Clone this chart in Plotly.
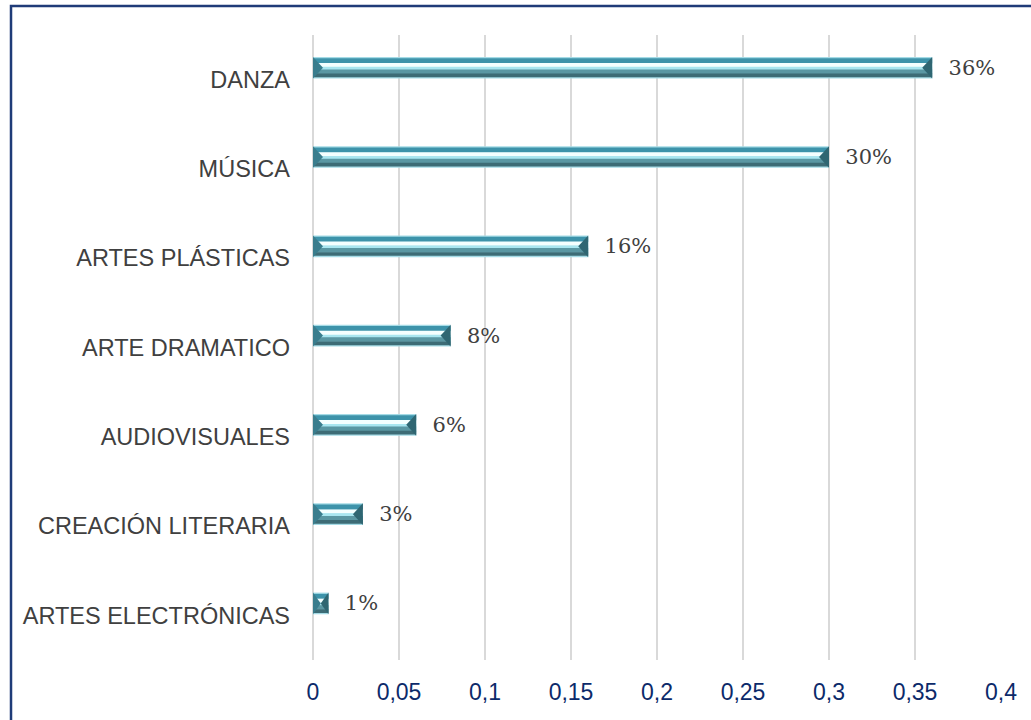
import plotly.graph_objects as go

categories = ["DANZA", "MÚSICA", "ARTES PLÁSTICAS", "ARTE DRAMATICO",
              "AUDIOVISUALES", "CREACIÓN LITERARIA", "ARTES ELECTRÓNICAS"]
values = [0.36, 0.30, 0.16, 0.08, 0.06, 0.029, 0.009]
x_ticks = [0, 0.05, 0.1, 0.15, 0.2, 0.25, 0.3, 0.35, 0.4]

pos = list(range(len(categories)))

BAR_OFF = -0.255
BAR_W = 0.243
FACET = 0.0058  # bevel end-facet depth (x units)

# bevel layers: (from, to) fraction of bar thickness from top, colour
layers = [
    (0.00, 1.00, "#a5dbe6"),
    (0.06, 0.30, "#3d93aa"),
    (0.28, 0.47, "#f4ffff"),
    (0.46, 0.59, "#a9e6f0"),
    (0.58, 0.79, "#5a97a3"),
    (0.77, 0.94, "#3d6c76"),
]

fig = go.Figure()
for f0, f1, col in layers:
    fig.add_trace(go.Bar(
        x=values, y=pos, orientation="h",
        offset=BAR_OFF + f0 * BAR_W, width=(f1 - f0) * BAR_W,
        marker=dict(color=col, line=dict(width=0)),
        hoverinfo="skip", showlegend=False,
    ))

# bevel end facets (darker triangles at both ends of each bar)
for p, v in zip(pos, values):
    top = p + BAR_OFF
    bot = p + BAR_OFF + BAR_W
    mid = (top + bot) / 2
    d = min(FACET, v / 2)
    fig.add_trace(go.Scatter(
        x=[v, v - d, v, v], y=[top, mid, bot, top], mode="lines",
        fill="toself", fillcolor="#2f6672", line=dict(width=0),
        hoverinfo="skip", showlegend=False))
    fig.add_trace(go.Scatter(
        x=[0, d, 0, 0], y=[top, mid, bot, top], mode="lines",
        fill="toself", fillcolor="#3a7d8d", line=dict(width=0),
        hoverinfo="skip", showlegend=False))

# data labels
fig.add_trace(go.Bar(
    x=values, y=pos, orientation="h",
    offset=BAR_OFF, width=BAR_W,
    marker=dict(color="rgba(0,0,0,0)", line=dict(width=0)),
    texttemplate="\u00a0\u00a0%{x:.0%}", textposition="outside",
    constraintext="none", cliponaxis=False,
    textfont=dict(family="DejaVu Serif", size=21, color="#404040"),
    hoverinfo="skip", showlegend=False,
))

fig.update_layout(
    width=1031, height=720,
    barmode="overlay",
    separators=",.",
    paper_bgcolor="white", plot_bgcolor="white",
    margin=dict(l=313, r=30, t=35, b=60),
    xaxis=dict(range=[0, 0.4], tickvals=x_ticks, showgrid=True,
               gridcolor="#d9d9d9", gridwidth=1.5,
               zeroline=True, zerolinecolor="#d9d9d9", zerolinewidth=1.5,
               showline=False, ticks="", ticklabelstandoff=16,
               tickfont=dict(family="Liberation Sans", size=23, color="#0c2a6a")),
    yaxis=dict(range=[len(categories) - 0.5, -0.5], tickvals=pos, ticktext=categories,
               showgrid=False, zeroline=False, showline=False, ticks="",
               ticklabelstandoff=22,
               tickfont=dict(family="Liberation Sans", size=23.5, color="#404040")),
    shapes=[dict(type="rect", xref="paper", yref="paper",
                 x0=-(313 - 11) / 688, x1=1.2, y0=-0.5, y1=1 + 29 / 625,
                 line=dict(color="#1f3b78", width=2.5), layer="above")],
)

fig.write_html("out.html", config={"displayModeBar": False},
               post_script="document.body.style.margin='0';")
